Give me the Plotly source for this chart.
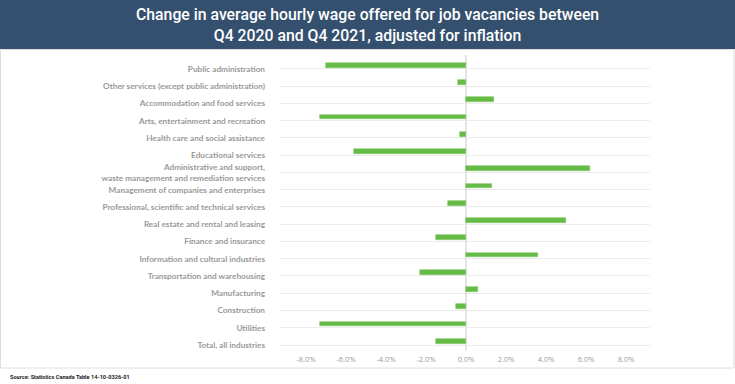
import plotly.graph_objects as go

categories = [
    "Public administration",
    "Other services (except public administration)",
    "Accommodation and food services",
    "Arts, entertainment and recreation",
    "Health care and social assistance",
    "Educational services",
    "Administrative and support,<br>waste management and remediation services",
    "Management of companies and enterprises",
    "Professional, scientific and technical services",
    "Real estate and rental and leasing",
    "Finance and insurance",
    "Information and cultural industries",
    "Transportation and warehousing",
    "Manufacturing",
    "Construction",
    "Utilities",
    "Total, all industries",
]
values = [-7.0, -0.4, 1.4, -7.3, -0.3, -5.6, 6.2, 1.3, -0.9, 5.0, -1.5, 3.6, -2.3, 0.6, -0.5, -7.3, -1.5]
x_ticks = [-8, -6, -4, -2, 0, 2, 4, 6, 8]
x_tick_labels = ["-8.0%", "-6.0%", "-4.0%", "-2.0%", "0.0%", "2.0%", "4.0%", "6.0%", "8.0%"]
title_text = "Change in average hourly wage offered for job vacancies between<br>Q4 2020 and Q4 2021, adjusted for inflation"
source_text = "Source: Statistics Canada Table 14-10-0326-01"

W, H = 735, 384
ML, MR, MT, MB = 280, 85, 55, 34
PW, PH = W - ML - MR, H - MT - MB


def px_x(p):
    return (p - ML) / PW


def px_y(p):
    return 1 - (p - MT) / PH


fig = go.Figure()
fig.add_trace(go.Bar(
    y=categories, x=values, orientation="h",
    marker=dict(color="#66bb47", line=dict(color="#7cc862", width=0.6)),
    width=0.28, offset=-0.36,
    hoverinfo="x+y",
))

shapes = [
    dict(type="rect", xref="paper", yref="paper",
         x0=px_x(0), x1=px_x(W), y0=px_y(49), y1=px_y(0),
         fillcolor="#34506e", line=dict(width=0), layer="below"),
    dict(type="rect", xref="paper", yref="paper",
         x0=px_x(0.5), x1=px_x(734), y0=px_y(368), y1=px_y(49.5),
         fillcolor="rgba(0,0,0,0)", line=dict(color="#dedede", width=1), layer="below"),
]

annotations = [
    dict(text=title_text, xref="paper", yref="paper", x=px_x(367.5), y=px_y(25.5),
         xanchor="center", yanchor="middle", showarrow=False,
         font=dict(family="Roboto", size=15.8, weight=500, color="white")),
    dict(text=source_text, xref="paper", yref="paper", x=px_x(8), y=px_y(377),
         xanchor="left", yanchor="middle", showarrow=False,
         font=dict(family="Roboto", size=5.6, weight=700, color="#222222")),
]

fig.update_layout(
    width=W, height=H,
    margin=dict(l=ML, r=MR, t=MT, b=MB),
    paper_bgcolor="white", plot_bgcolor="white",
    showlegend=False,
    shapes=shapes, annotations=annotations,
    xaxis=dict(range=[-9.3, 9.2], tickvals=x_ticks, ticktext=x_tick_labels,
               showgrid=False, zeroline=True, zerolinecolor="#e4e4e4", zerolinewidth=2,
               tickfont=dict(family="Open Sans", size=7.5, color="#9a9a9a"),
               fixedrange=True, showline=False, ticklabelstandoff=3),
    yaxis=dict(categoryorder="array", categoryarray=categories,
               range=[16.29, -0.81], showgrid=True, gridcolor="#ececec", gridwidth=1,
               tickfont=dict(family="Lato", size=8.2, weight=700, color="#999999"),
               ticklabelstandoff=14, showline=False, zeroline=False, fixedrange=True),
    bargap=0,
)

fig.write_html("out.html", config={"displayModeBar": False},
               post_script="document.body.style.margin='0';")
